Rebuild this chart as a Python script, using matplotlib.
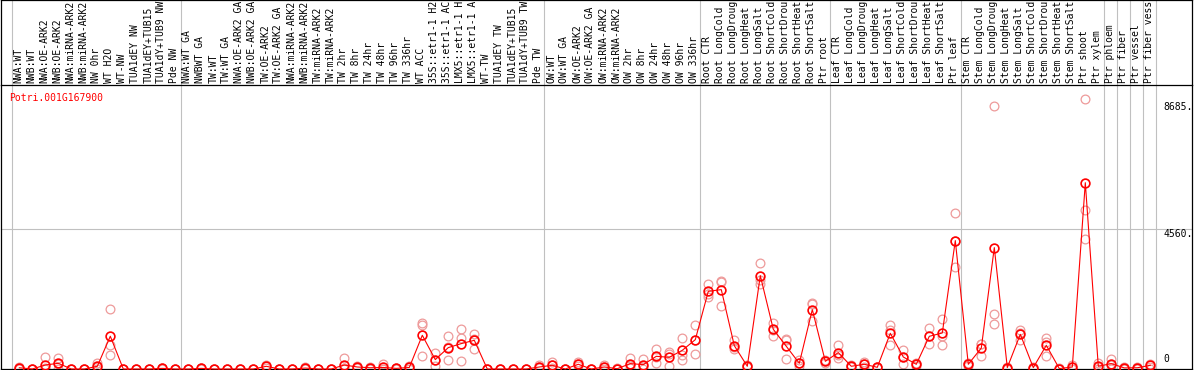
import matplotlib
matplotlib.use("Agg")
import matplotlib.pyplot as plt
from matplotlib.lines import Line2D
from matplotlib.transforms import blended_transform_factory

# ─────────────────────────────────────────────
# DATA
# ─────────────────────────────────────────────
gene_id = "Potri.001G167900"

# sample names as the chart prints them (cut to 14 characters)
samples = [
    "NWA:WT", "NWB:WT", "NWA:OE-ARK2", "NWB:OE-ARK2", "NWA:miRNA-ARK2",
    "NWB:miRNA-ARK2", "NW 0hr", "WT H2O", "WT-NW", "TUA1dEY NW",
    "TUA1dEY+TUB15", "TUA1dY+TUB9 NW", "Pde NW",
    "NWA:WT GA", "NWBWT GA", "TW:WT", "TW:WT GA", "NWA:OE-ARK2 GA",
    "NWB:OE-ARK2 GA", "TW:OE-ARK2", "TW:OE-ARK2 GA", "NWA:miRNA-ARK2",
    "NWB:miRNA-ARK2", "TW:miRNA-ARK2", "TW:miRNA-ARK2", "TW 2hr",
    "TW 8hr", "TW 24hr", "TW 48hr", "TW 96hr", "TW 336hr", "WT ACC",
    "35S::etr1-1 H2", "35S::etr1-1 AC", "LMX5::etr1-1 H",
    "LMX5::etr1-1 A", "WT-TW", "TUA1dEY TW", "TUA1dEY+TUB15",
    "TUA1dY+TUB9 TW", "Pde TW",
    "OW:WT", "OW:WT GA", "OW:OE-ARK2", "OW:OE-ARK2 GA", "OW:miRNA-ARK2",
    "OW:miRNA-ARK2", "OW 2hr", "OW 8hr", "OW 24hr", "OW 48hr",
    "OW 96hr", "OW 336hr",
    "Root CTR", "Root LongCold", "Root LongDroug", "Root LongHeat",
    "Root LongSalt", "Root ShortCold", "Root ShortDrou", "Root ShortHeat",
    "Root ShortSalt", "Ptr root",
    "Leaf CTR", "Leaf LongCold", "Leaf LongDroug", "Leaf LongHeat",
    "Leaf LongSalt", "Leaf ShortCold", "Leaf ShortDrou", "Leaf ShortHeat",
    "Leaf ShortSalt", "Ptr leaf",
    "Stem CTR", "Stem LongCold", "Stem LongDroug", "Stem LongHeat",
    "Stem LongSalt", "Stem ShortCold", "Stem ShortDrou", "Stem ShortHeat",
    "Stem ShortSalt", "Ptr shoot", "Ptr xylem",
    "Ptr phloem", "Ptr fiber", "Ptr vessel", "Ptr fiber vess",
]

# last sample index of each group (-1 = leading separator)
group_ends = [-1, 12, 40, 52, 62, 72, 83, 84, 85, 86, 87]

mean_expr = [
    40, 0, 130, 185, 0, 0, 88, 1065, 0, 0, 0, 20, 0,
    0, 20, 0, 0, 0, 0, 88, 0, 0, 30, 0, 0, 130, 65, 40, 50, 20, 50,
    1095, 305, 695, 825, 932, 0, 0, 0, 0, 65,
    120, 0, 153, 0, 65, 10, 175, 142, 412, 380, 607, 953,
    2523, 2578, 759, 88, 3033, 1289, 737, 185, 1929, 250,
    532, 88, 153, 55, 1160, 390, 153, 1062, 1170, 4170,
    153, 682, 3943, 45, 1127, 45, 770, 13, 65, 6051, 88,
    175, 35, 40, 120,
]

replicates = [
    [65, 20, 0], [0, 0, 0], [390, 30, 0], [370, 160, 0], [0, 0, 0],
    [0, 0, 0], [210, 60, 0], [1961, 770, 445], [0, 0, 0], [0, 0, 0],
    [0, 0, 0], [40, 20, 0], [0, 0, 0],
    [0, 0, 0], [40, 20, 0], [0, 0, 0], [0, 0, 0], [0, 0, 0],
    [0, 0, 0], [130, 100, 30], [0, 0, 0], [0, 0, 0], [60, 30, 0],
    [0, 0, 0], [0, 0, 0], [347, 40, 0], [100, 60, 30], [80, 40, 0],
    [153, 0, 0], [40, 20, 0], [100, 50, 0], [1507, 1442, 412],
    [520, 290, 110], [1062, 718, 305], [1289, 1007, 250], [1150, 985, 662],
    [0, 0, 0], [0, 0, 0], [0, 0, 0], [0, 0, 0], [120, 60, 20],
    [228, 120, 20], [0, 0, 0], [218, 153, 90], [0, 0, 0], [120, 65, 10],
    [20, 10, 0], [357, 140, 30], [337, 90, 0], [662, 380, 195],
    [552, 490, 97], [1007, 467, 305], [1442, 940, 477],
    [2773, 2449, 2350], [2848, 2820, 2059], [932, 705, 640], [120, 88, 50],
    [3456, 2881, 2773], [1507, 1275, 1085], [987, 930, 337], [280, 185, 90],
    [2134, 2104, 1549], [300, 250, 200],
    [770, 469, 357], [120, 88, 50], [228, 153, 80], [80, 55, 30],
    [1442, 1266, 792], [630, 390, 150], [200, 153, 100], [1344, 1062, 825],
    [1637, 1081, 792], [5080, 4170, 3313],
    [200, 153, 100], [825, 809, 412], [8555, 1799, 1452], [80, 45, 10],
    [1280, 1170, 932], [80, 45, 10], [1007, 890, 412], [30, 13, 0],
    [120, 65, 10], [8782, 5154, 4212], [207, 65, 0],
    [337, 142, 0], [60, 45, 10], [60, 45, 10], [175, 65, 0],
]

y_ticks = [0, 4560, 8685]
y_tick_labels = ["0", "4560.", "8685."]

# ─────────────────────────────────────────────
# LAYOUT (pixel helpers)
# ─────────────────────────────────────────────
W, H = 1194, 370
MONO = "DejaVu Sans Mono"
FS = 7.0
GRID = "#c0c0c0"


def fx(px):
    return px / W


def fy(py):
    return 1 - py / H


fig = plt.figure(figsize=(W / 100, H / 100), dpi=100)
fig.patch.set_facecolor("white")

ax_left, ax_right, ax_top, ax_bot = 1, 1192, 85, 369
ax = fig.add_axes([fx(ax_left), fy(ax_bot), fx(ax_right) - fx(ax_left),
                   fy(ax_top) - fy(ax_bot)])

x0, dx = 19.3, 13.0          # pixel of first sample, pixel step
y_scale = 140.4 / 4560       # px per unit
ax.set_xlim((ax_left - x0) / dx, (ax_right - x0) / dx)
ax.set_ylim(0, (ax_bot - ax_top) / y_scale)
ax.set_xticks([])
ax.set_yticks([])
for s in ax.spines.values():
    s.set_color("black")
    s.set_linewidth(0.9)

# separators (run through the label band too)
band = (ax_bot - 0) / (ax_bot - ax_top)
for b in group_ends:
    ax.axvline(b + 0.4, ymin=0, ymax=band, color=GRID, lw=0.8,
               clip_on=False, zorder=0)
ax.axhline(y_ticks[1], color=GRID, lw=0.8, zorder=0)

# outer frame of the label band
for px in (ax_left, ax_right):
    fig.add_artist(Line2D([fx(px), fx(px)], [fy(0), fy(ax_top)],
                          color="black", lw=0.9))
fig.add_artist(Line2D([fx(ax_left), fx(ax_right)], [fy(0.3), fy(0.3)],
                      color="black", lw=0.9))

# ── marks ─────────────────────────────────
xs = list(range(len(samples)))
for i, reps in enumerate(replicates):
    ax.plot([i] * len(reps), reps, "o", ms=6.3, mfc="none", mec="#ee9a9a",
            mew=0.9, clip_on=False, zorder=2)
ax.plot(xs, mean_expr, "-", color="red", lw=0.8, clip_on=False, zorder=3)
ax.plot(xs, mean_expr, "o", ms=6.3, mfc="none", mec="red", mew=1.2,
        clip_on=False, zorder=4)

# ── texts ─────────────────────────────────
lab_tr = blended_transform_factory(ax.transData, fig.transFigure)
for i, name in enumerate(samples):
    ax.text(i - 0.08, fy(83), name, transform=lab_tr, rotation=90,
            ha="center", va="bottom", family=MONO, fontsize=FS,
            color="black", clip_on=False)

tick_tr = blended_transform_factory(fig.transFigure, ax.transData)
for val, lab in zip(y_ticks, y_tick_labels):
    ax.text(fx(1163), val if val else 150, lab, transform=tick_tr,
            ha="left", va="top" if val else "bottom", family=MONO,
            fontsize=FS, color="black")

fig.text(fx(9), fy(97.7), gene_id, color="red", ha="left", va="center",
         family=MONO, fontsize=FS)

fig.savefig("out.png", dpi=100)
